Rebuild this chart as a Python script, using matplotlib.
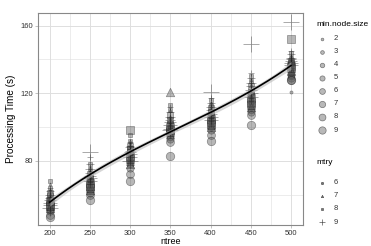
import numpy as np
from matplotlib import pyplot as plt

ntree = [200, 250, 300, 350, 400, 450, 500]
node_sizes = [2, 3, 4, 5, 6, 7, 8, 9]
mtry = [6, 7, 8, 9]

# processing time (s): per ntree, one row per mtry, one column per min.node.size
times = {
    200: [[58, 56, 54, 52, 51, 50, 48, 47],
          [66, 63, 60, 58, 56, 55, 53, 52],
          [68, 64, 61, 59, 57, 56, 54, 53],
          [64, 62, 60, 58, 57, 55, 54, 52]],
    250: [[70, 68, 66, 64, 63, 61, 60, 57],
          [76, 74, 72, 70, 68, 66, 65, 63],
          [78, 75, 72, 70, 68, 67, 65, 64],
          [82, 78, 75, 73, 71, 70, 68, 85]],
    300: [[86, 84, 82, 80, 78, 76, 72, 68],
          [92, 90, 88, 86, 84, 82, 80, 78],
          [95, 92, 89, 87, 85, 83, 81, 98],
          [91, 89, 88, 86, 85, 84, 82, 80]],
    350: [[102, 100, 98, 96, 94, 93, 91, 83],
          [110, 106, 104, 102, 100, 98, 96, 121],
          [113, 110, 107, 104, 102, 100, 98, 97],
          [112, 109, 106, 104, 103, 101, 99, 98]],
    400: [[108, 106, 104, 102, 100, 98, 95, 92],
          [114, 112, 110, 108, 106, 104, 102, 100],
          [116, 113, 111, 109, 107, 105, 103, 101],
          [117, 114, 112, 110, 108, 106, 104, 121]],
    450: [[118, 116, 114, 112, 110, 109, 107, 101],
          [128, 125, 122, 120, 118, 116, 114, 112],
          [130, 127, 124, 121, 119, 117, 115, 113],
          [132, 129, 126, 124, 122, 120, 118, 149]],
    500: [[121, 134, 132, 131, 130, 129, 128, 128],
          [142, 140, 138, 137, 136, 135, 134, 133],
          [144, 141, 139, 138, 137, 136, 135, 152],
          [145, 143, 141, 140, 139, 138, 137, 162]],
}

shapes = {6: 'o', 7: '^', 8: 's', 9: '+'}


def size_of(ns):
    # area grows linearly with min.node.size
    return 5 + (ns - 2) * 4.6


plt.rcParams['font.family'] = ['Liberation Sans', 'DejaVu Sans']
fig = plt.figure(figsize=(3.71, 2.46), dpi=100)
ax = fig.add_axes([0.1016, 0.0854, 0.7152, 0.8618])

grid_col = '#dedede'
for v in [225, 275, 325, 375, 425, 475]:
    ax.axvline(v, color=grid_col, lw=0.4, zorder=0)
for v in [60, 100, 140]:
    ax.axhline(v, color=grid_col, lw=0.4, zorder=0)
for v in ntree:
    ax.axvline(v, color=grid_col, lw=0.7, zorder=0)
for v in [80, 120, 160]:
    ax.axhline(v, color=grid_col, lw=0.7, zorder=0)

all_x = []
all_y = []
for nt in ntree:
    for i, m in enumerate(mtry):
        for j, ns in enumerate(node_sizes):
            y = times[nt][i][j]
            all_x.append(nt)
            all_y.append(y)
            mk = shapes[m]
            if mk == '+':
                ax.scatter(nt, y, s=size_of(ns) * 3.2, marker='+', color='#222222',
                           alpha=0.45, linewidths=0.6, zorder=2)
            else:
                ax.scatter(nt, y, s=size_of(ns), marker=mk, facecolor='#555555',
                           edgecolor='#111111', alpha=0.42, linewidths=0.5, zorder=2)

# smooth fit with confidence band
all_x = np.array(all_x, dtype=float)
all_y = np.array(all_y, dtype=float)
coef, cov = np.polyfit(all_x, all_y, 3, cov=True)
xs = np.linspace(200, 500, 200)
X = np.vstack([xs ** 3, xs ** 2, xs, np.ones_like(xs)]).T
fit = X @ coef
se = np.sqrt(np.einsum('ij,jk,ik->i', X, cov, X))
ax.fill_between(xs, fit - 1.96 * se, fit + 1.96 * se, color='#bbbbbb', alpha=0.6,
                lw=0, zorder=3)
ax.plot(xs, fit, color='black', lw=1.2, zorder=4)

ax.set_xlim(185, 515)
ax.set_ylim(42, 167.5)
ax.set_xticks(ntree)
ax.set_yticks([80, 120, 160])
ax.tick_params(labelsize=5.5, length=2, width=0.5, color='#aaaaaa', pad=1.5,
               labelcolor='#333333')
for s in ax.spines.values():
    s.set_color('#888888')
    s.set_linewidth(0.8)
ax.set_xlabel('ntree', fontsize=6.5, labelpad=0)
ax.set_ylabel('Processing Time (s)', fontsize=7.2, labelpad=3)

# legends drawn in figure pixel space
leg = fig.add_axes([0, 0, 1, 1], zorder=-1)
leg.set_xlim(0, 371)
leg.set_ylim(246, 0)
leg.axis('off')

leg.text(316, 24, 'min.node.size', fontsize=6, va='center', ha='left')
for k, ns in enumerate(node_sizes):
    yy = 38.7 + k * 13.05
    leg.scatter(322, yy, s=size_of(ns) * 0.75, marker='o', facecolor='#8a8a8a',
                edgecolor='#333333', alpha=0.6, linewidths=0.5)
    leg.text(334, yy, str(ns), fontsize=5.5, va='center', ha='left', color='#333333')

leg.text(316, 163, 'mtry', fontsize=6, va='center', ha='left')
for k, m in enumerate(mtry):
    yy = 182.7 + k * 13.1
    mk = shapes[m]
    if mk == '+':
        leg.scatter(322, yy, s=14, marker='+', color='#555555', linewidths=0.5)
    else:
        leg.scatter(322, yy, s=3, marker=mk, facecolor='#777777',
                    edgecolor='#444444', linewidths=0.4)
    leg.text(334, yy, str(m), fontsize=5.5, va='center', ha='left', color='#333333')

fig.savefig('out.png', dpi=100)
